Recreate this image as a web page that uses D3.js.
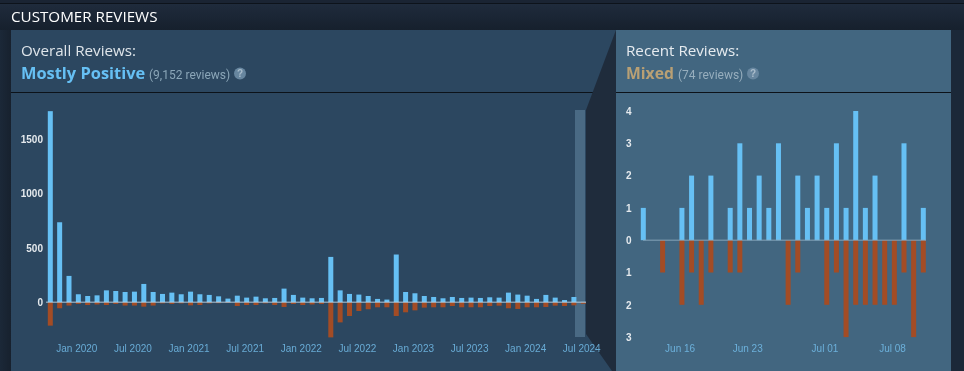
<!DOCTYPE html>
<html lang="en">
  <head>
    <meta charset="UTF-8" />
    <title>customer reviews</title>
    <style>
      html, body { margin: 0; padding: 0; background: #1b2838; overflow: hidden; }
      svg { display: block; filter: blur(0.3px); }
    </style>
  </head>
  <body>
    <svg id="svg" width="964" height="371"></svg>
    <script src="https://cdn.jsdelivr.net/npm/d3@7"></script>
    <script>
      // overall reviews, per month, Oct 2019 .. Jul 2024
      const months = [
        '2019-10', '2019-11', '2019-12',
        '2020-01', '2020-02', '2020-03', '2020-04', '2020-05', '2020-06', '2020-07', '2020-08', '2020-09', '2020-10', '2020-11', '2020-12',
        '2021-01', '2021-02', '2021-03', '2021-04', '2021-05', '2021-06', '2021-07', '2021-08', '2021-09', '2021-10', '2021-11', '2021-12',
        '2022-01', '2022-02', '2022-03', '2022-04', '2022-05', '2022-06', '2022-07', '2022-08', '2022-09', '2022-10', '2022-11', '2022-12',
        '2023-01', '2023-02', '2023-03', '2023-04', '2023-05', '2023-06', '2023-07', '2023-08', '2023-09', '2023-10', '2023-11', '2023-12',
        '2024-01', '2024-02', '2024-03', '2024-04', '2024-05', '2024-06', '2024-07'
      ]
      const overallUp = [
        1760, 737, 243, 74, 58, 64, 110, 104, 95, 98, 169, 95, 77, 89, 74, 98,
        74, 68, 55, 34, 61, 43, 52, 37, 40, 126, 68, 43, 37, 40, 418, 110,
        77, 71, 58, 31, 25, 440, 95, 83, 58, 49, 37, 49, 40, 43, 40, 46,
        43, 89, 71, 61, 31, 68, 43, 21, 49, 4
      ]
      const overallDown = [
        215, 55, 30, 15, 25, 20, 25, 15, 30, 30, 40, 30, 10, 15, 10, 28,
        25, 10, 8, 6, 34, 25, 25, 10, 25, 43, 15, 25, 20, 15, 323, 185,
        126, 80, 64, 46, 46, 126, 92, 74, 49, 46, 46, 34, 46, 46, 46, 34,
        31, 55, 61, 46, 46, 43, 31, 34, 28, 14
      ]
      const overallTicks = ['2020-01', '2020-07', '2021-01', '2021-07', '2022-01', '2022-07', '2023-01', '2023-07', '2024-01', '2024-07']
      const overallTickLabels = ['Jan 2020', 'Jul 2020', 'Jan 2021', 'Jul 2021', 'Jan 2022', 'Jul 2022', 'Jan 2023', 'Jul 2023', 'Jan 2024', 'Jul 2024']
      const overallYTicks = [0, 500, 1000, 1500]

      // recent reviews, per day, Jun 12 .. Jul 11
      const days = [
        'Jun 12', 'Jun 13', 'Jun 14', 'Jun 15', 'Jun 16', 'Jun 17', 'Jun 18', 'Jun 19', 'Jun 20', 'Jun 21',
        'Jun 22', 'Jun 23', 'Jun 24', 'Jun 25', 'Jun 26', 'Jun 27', 'Jun 28', 'Jun 29', 'Jun 30', 'Jul 01',
        'Jul 02', 'Jul 03', 'Jul 04', 'Jul 05', 'Jul 06', 'Jul 07', 'Jul 08', 'Jul 09', 'Jul 10', 'Jul 11'
      ]
      const recentUp = [1, 0, 0, 0, 1, 2, 0, 2, 0, 1, 3, 1, 2, 1, 3, 0, 2, 1, 2, 1, 3, 1, 4, 1, 2, 0, 0, 3, 0, 1]
      const recentDown = [0, 0, 1, 0, 2, 1, 2, 1, 0, 1, 1, 0, 0, 0, 0, 2, 1, 0, 0, 2, 1, 3, 2, 2, 2, 2, 2, 1, 3, 1]
      const recentTicks = ['Jun 16', 'Jun 23', 'Jul 01', 'Jul 08']
      const recentYTicks = [-3, -2, -1, 0, 1, 2, 3, 4]

      const upColor = '#66c0f4'
      const downColor = '#a34c25'

      const svg = d3.select('#svg')
      const defs = svg.append('defs')

      const topGrad = defs.append('linearGradient').attr('id', 'topGrad').attr('x1', 0).attr('x2', 0).attr('y1', 0).attr('y2', 1)
      topGrad.append('stop').attr('offset', 0).attr('stop-color', '#1f2b3c')
      topGrad.append('stop').attr('offset', 1).attr('stop-color', '#16202d')

      const leftGrad = defs.append('linearGradient').attr('id', 'sideGrad').attr('x1', 0).attr('x2', 1).attr('y1', 0).attr('y2', 0)
      leftGrad.append('stop').attr('offset', 0).attr('stop-color', '#1b2838')
      leftGrad.append('stop').attr('offset', 1).attr('stop-color', '#17212e')

      // page background
      svg.append('rect').attr('width', 964).attr('height', 371).attr('fill', '#1b2838')
      svg.append('rect').attr('y', 4).attr('width', 964).attr('height', 26).attr('fill', 'url(#topGrad)')
      svg.append('rect').attr('width', 964).attr('height', 3).attr('fill', '#1a2433')
      svg.append('rect').attr('y', 3).attr('width', 964).attr('height', 1).attr('fill', '#0d131b')
      svg.append('rect').attr('y', 30).attr('width', 11).attr('height', 341).attr('fill', 'url(#sideGrad)')

      // panels
      svg.append('rect').attr('x', 11).attr('y', 30).attr('width', 605).attr('height', 341).attr('fill', '#2c4760')
      svg.append('rect').attr('x', 616).attr('y', 30).attr('width', 335).attr('height', 341).attr('fill', '#426680')
      svg.append('rect').attr('x', 11).attr('y', 92).attr('width', 940).attr('height', 1).attr('fill', '#0c1219')

      // wedge between the two panels, under the charts so Jul 2024 stays readable
      const wedge = [[616, 30], [586, 110], [586, 334], [612, 371], [616, 371]]
      svg.append('path').attr('d', d3.line()(wedge) + 'Z').attr('fill', '#1f2c3c')

      function drawChart(g, opt) {
        const x = d3.scalePoint().domain(opt.cats).range(opt.xRange)
        const y = d3.scaleLinear().domain(opt.yDomain).range(opt.yRange)

        g.append('g')
          .selectAll('rect')
          .data(opt.up)
          .join('rect')
          .attr('x', (d, i) => x(opt.cats[i]) - opt.barW / 2)
          .attr('y', (d) => y(d))
          .attr('width', opt.barW)
          .attr('height', (d) => y(0) - y(d))
          .attr('fill', upColor)

        g.append('g')
          .selectAll('rect')
          .data(opt.down)
          .join('rect')
          .attr('x', (d, i) => x(opt.cats[i]) - opt.barW / 2)
          .attr('y', y(0))
          .attr('width', opt.barW)
          .attr('height', (d) => y(-d) - y(0))
          .attr('fill', downColor)

        // zero line
        g.append('line')
          .attr('x1', opt.zero[0])
          .attr('x2', opt.zero[1])
          .attr('y1', y(0))
          .attr('y2', y(0))
          .attr('stroke', opt.zeroColor)
          .attr('stroke-width', 1.5)

        const yAxis = d3
          .axisLeft(y)
          .tickValues(opt.yTicks)
          .tickSize(0)
          .tickPadding(0)
          .tickFormat((d) => Math.abs(d))
        const yg = g.append('g').attr('transform', `translate(${opt.yAxisX},0)`).call(yAxis)
        yg.select('.domain').remove()
        yg.selectAll('text')
          .attr('font-family', 'Liberation Sans, Arial, sans-serif')
          .attr('font-size', 10)
          .attr('font-weight', 'bold')
          .attr('fill', '#e4e9ed')

        const xAxis = d3
          .axisBottom(x)
          .tickValues(opt.xTicks)
          .tickSize(0)
          .tickPadding(0)
          .tickFormat(opt.xFormat)
        const xg = g.append('g').attr('transform', `translate(${opt.xShift},${opt.xAxisY})`).call(xAxis)
        xg.select('.domain').remove()
        xg.selectAll('text')
          .attr('font-family', 'Liberation Sans, Arial, sans-serif')
          .attr('font-size', 10)
          .attr('fill', '#73bdea')
          .attr('opacity', 0.85)
      }

      const overallG = svg.append('g')
      // highlighted range: the last 30 days
      overallG.append('rect').attr('x', 575).attr('y', 110).attr('width', 10).attr('height', 227).attr('fill', '#4a6a84')

      drawChart(overallG, {
        cats: months,
        up: overallUp,
        down: overallDown,
        xRange: [50.3, 583.25],
        yDomain: [0, 1500],
        yRange: [302.3, 139.4],
        barW: 5,
        zero: [46, 586],
        zeroColor: 'rgba(190,215,232,0.6)',
        yTicks: overallYTicks,
        yAxisX: 43,
        xTicks: overallTicks,
        xFormat: (d) => overallTickLabels[overallTicks.indexOf(d)],
        xAxisY: 344.5,
        xShift: -2
      })

      const recentG = svg.append('g')
      drawChart(recentG, {
        cats: days,
        up: recentUp,
        down: recentDown,
        xRange: [643.3, 923.3],
        yDomain: [0, 4],
        yRange: [240.2, 111],
        barW: 5,
        zero: [643, 926],
        zeroColor: 'rgba(140,170,192,0.6)',
        yTicks: recentYTicks,
        yAxisX: 631.5,
        xTicks: recentTicks,
        xFormat: (d) => d,
        xAxisY: 344.5,
        xShift: -2.3
      })

      // headers
      function label(txt, px, py, size, color, family, weight) {
        return svg.append('text')
          .attr('x', px).attr('y', py)
          .attr('font-family', family)
          .attr('font-size', size)
          .attr('font-weight', weight || 'normal')
          .attr('fill', color)
          .text(txt)
      }
      function helpBadge(cx, cy) {
        svg.append('circle').attr('cx', cx).attr('cy', cy).attr('r', 6).attr('fill', '#67869f')
        svg.append('text')
          .attr('x', cx).attr('y', cy + 3.5)
          .attr('text-anchor', 'middle')
          .attr('font-family', 'Liberation Sans, Arial, sans-serif')
          .attr('font-size', 10)
          .attr('font-weight', 'bold')
          .attr('fill', '#a9bccb')
          .text('?')
      }

      const head = 'Open Sans, sans-serif'
      const small = 'Roboto, sans-serif'
      label('CUSTOMER REVIEWS', 11, 21.5, 15.2, '#ffffff', head)

      label('Overall Reviews:', 21, 56, 15.2, '#dfe5ea', head)
      label('Mostly Positive', 21, 79, 16.4, upColor, head, 'bold')
      label('(9,152 reviews)', 149, 79, 12, '#8ba6b8', small)
      helpBadge(240, 73.5)

      label('Recent Reviews:', 626, 56, 15.2, '#e6ebef', head)
      label('Mixed', 626, 79, 15.7, '#b9a074', head, 'bold')
      label('(74 reviews)', 678, 79, 12, '#97aebd', small)
      helpBadge(753, 73.5)
    </script>
  </body>
</html>
